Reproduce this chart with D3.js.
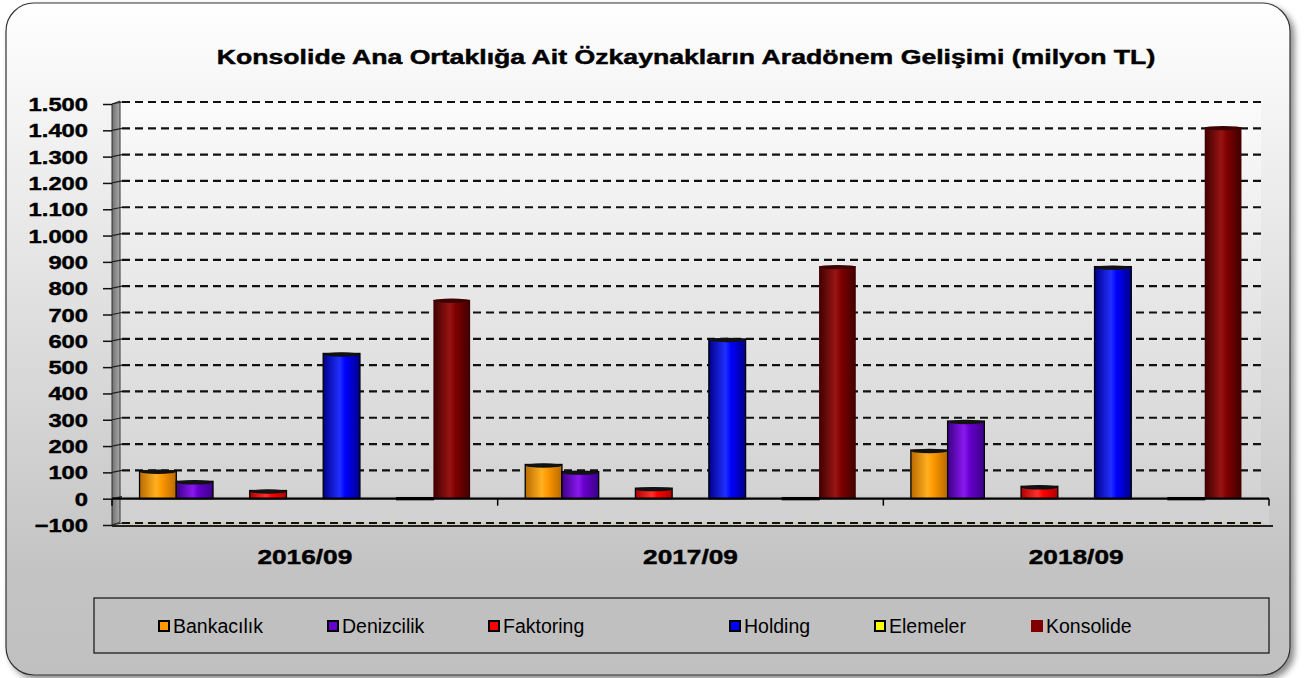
<!DOCTYPE html>
<html><head><meta charset="utf-8">
<script src="https://cdn.jsdelivr.net/npm/d3@7"></script>
<style>
html,body{margin:0;padding:0;background:#fff;}
svg{display:block;font-family:Arial,"Liberation Sans",sans-serif;}
</style></head>
<body>
<svg id="c" width="1310" height="678"></svg>
<script>
// ---------- data ----------
const categories = ["2016/09", "2017/09", "2018/09"];
const seriesNames = ["Bankacılık", "Denizcilik", "Faktoring", "Holding", "Elemeler", "Konsolide"];
// chart slots (hidden/empty series in the original occupy the gaps)
const slotKeys = ["Bankacılık", "Denizcilik", "(boş1)", "Faktoring", "(boş2)", "Holding", "(boş3)", "Elemeler", "Konsolide"];
const bankacilik = [106, 130, 185];
const denizcilik = [66, 103, 295];
const faktoring  = [31, 40, 47];
const holding    = [552, 607, 882];
const elemeler   = [-3, -3, -3];
const konsolide  = [756, 884, 1412];
const yTicks = [-100, 0, 100, 200, 300, 400, 500, 600, 700, 800, 900, 1000, 1100, 1200, 1300, 1400, 1500];
const titleText = "Konsolide Ana Ortaklığa Ait Özkaynakların Aradönem Gelişimi (milyon TL)";

const seriesValues = [bankacilik, denizcilik, faktoring, holding, elemeler, konsolide];
const palette = {
  "Bankacılık": {base:"#ff9900", dark:"#b86a00", light:"#ffb020", edge:true},
  "Denizcilik": {base:"#6600cc", dark:"#3c0088", light:"#8a18ee", edge:true},
  "Faktoring":  {base:"#ff0000", dark:"#b00000", light:"#ff3030", edge:true},
  "Holding":    {base:"#0000ff", dark:"#00008a", light:"#2030ff", edge:true},
  "Elemeler":   {base:"#ffff00", dark:"#202000", light:"#303000", edge:true},
  "Konsolide":  {base:"#800000", dark:"#3e0000", light:"#9a1414", edge:false}
};

const svg = d3.select("#c");
const defs = svg.append("defs");

// ---------- gradients / filters ----------
const bg = defs.append("linearGradient").attr("id","bg").attr("x1",0).attr("y1",0).attr("x2",0).attr("y2",1);
bg.append("stop").attr("offset","0").attr("stop-color","#ffffff");
bg.append("stop").attr("offset","0.45").attr("stop-color","#e0e0e0");
bg.append("stop").attr("offset","0.85").attr("stop-color","#c3c3c3");
bg.append("stop").attr("offset","1").attr("stop-color","#c0c0c0");

const wall = defs.append("linearGradient").attr("id","wall").attr("x1",0).attr("y1",0).attr("x2",0).attr("y2",1);
wall.append("stop").attr("offset","0").attr("stop-color","#fbfbfb");
wall.append("stop").attr("offset","1").attr("stop-color","#d3d3d3");

const lwall = defs.append("linearGradient").attr("id","lwall").attr("x1",0).attr("y1",0).attr("x2",1).attr("y2",0);
lwall.append("stop").attr("offset","0").attr("stop-color","#707070");
lwall.append("stop").attr("offset","1").attr("stop-color","#ababab");

const sh = defs.append("filter").attr("id","shadow").attr("x","-5%").attr("y","-5%").attr("width","112%").attr("height","112%");
sh.append("feDropShadow").attr("dx",4).attr("dy",4).attr("stdDeviation",3).attr("flood-color","#000").attr("flood-opacity",0.45);

seriesNames.forEach((n,i)=>{
  const p = palette[n];
  const g = defs.append("linearGradient").attr("id","g"+i).attr("x1",0).attr("y1",0).attr("x2",1).attr("y2",0);
  g.append("stop").attr("offset","0").attr("stop-color",p.dark);
  g.append("stop").attr("offset","0.45").attr("stop-color",p.light);
  g.append("stop").attr("offset","0.6").attr("stop-color",p.base);
  g.append("stop").attr("offset","1").attr("stop-color",p.dark);
});

// stretched text helper (reference text is horizontally wide and heavy)
function wideText(sel, x, yv, size, sx, anchor, weight, txt){
  return sel.append("text")
    .attr("transform",`translate(${x},${yv}) scale(${sx},1)`)
    .attr("text-anchor",anchor).attr("font-size",size).attr("font-weight",weight)
    .attr("fill","#000").attr("stroke","#000").attr("stroke-width",0.45).text(txt);
}

// ---------- frame ----------
svg.append("rect").attr("x",6).attr("y",3).attr("width",1284).attr("height",672)
  .attr("rx",28).attr("ry",28).attr("fill","url(#bg)").attr("stroke","#333").attr("stroke-width",1.2)
  .attr("filter","url(#shadow)");

// ---------- title ----------
wideText(svg, 686, 64, 20.5, 1.3, "middle", "bold", titleText);

// ---------- scales ----------
const x0 = 112, x1 = 1269, depth = 8, lift = 3;
const y = d3.scaleLinear().domain([-100,1500]).range([525,104]);
const xg = d3.scaleBand().domain(categories).range([x0,x1]).paddingInner(0).paddingOuter(0);
const xs = d3.scaleBand().domain(slotKeys).range([0,xg.bandwidth()]).paddingInner(0).paddingOuter(0.75);

// ---------- back wall ----------
svg.append("rect").attr("x",x0+depth).attr("y",y(1500)-lift).attr("width",x1-depth-(x0+depth)).attr("height",y(0)-y(1500))
  .attr("fill","url(#wall)");

// floor region (below zero)
svg.append("rect").attr("x",x0).attr("y",y(0)).attr("width",x1-x0).attr("height",y(-100)-y(0)+2)
  .attr("fill","#d2d2d2");
svg.append("polygon").attr("points",[[x0,y(-100)],[x0+depth,y(-100)-lift],[x1-depth,y(-100)-lift],[x1,y(-100)]].join(" "))
  .attr("fill","#cfcdb8");
svg.append("line").attr("x1",x0).attr("x2",x1+4).attr("y1",y(-100)+1).attr("y2",y(-100)+1)
  .attr("stroke","#222").attr("stroke-width",2);

// left wall
svg.append("polygon").attr("points",[[x0,y(1500)],[x0+depth,y(1500)-lift],[x0+depth,y(-100)-lift],[x0,y(-100)]].join(" "))
  .attr("fill","url(#lwall)").attr("stroke","#333").attr("stroke-width",1);

// gridlines
svg.append("g").selectAll("line").data(yTicks.filter(t=>t!==0)).join("line")
  .attr("x1",x0+depth+2).attr("x2",x1-depth)
  .attr("y1",d=>y(d)-lift+1).attr("y2",d=>y(d)-lift+1)
  .attr("stroke","#111").attr("stroke-width",2.2).attr("stroke-dasharray","8,5");
// little diagonal connectors
svg.append("g").selectAll("line").data(yTicks).join("line")
  .attr("x1",x0).attr("x2",x0+depth+2).attr("y1",d=>y(d)).attr("y2",d=>y(d)-lift+1)
  .attr("stroke","#222").attr("stroke-width",1.2);

// y axis ticks (d3 axis) & stretched labels
const fmt = d=>d3.format(",")(d).replace(/,/g,".");
const yAxis = d3.axisLeft(y).tickValues(yTicks).tickSize(9).tickFormat("");
const ya = svg.append("g").attr("transform",`translate(${x0},0)`).call(yAxis);
ya.select(".domain").remove();
ya.selectAll(".tick line").attr("stroke","#111").attr("stroke-width",1.5);
const yl = svg.append("g");
yTicks.forEach(t=>wideText(yl, 88, y(t)+7, 19, 1.25, "end", "bold", fmt(t)));

// ---------- bars ----------
const barData = [];
categories.forEach((c,ci)=>{
  seriesNames.forEach((n,si)=>{
    barData.push({cat:c, name:n, si:si, v:seriesValues[si][ci]});
  });
});
const bw = xs.bandwidth();
const bars = svg.append("g").selectAll("g").data(barData).join("g")
  .attr("transform",d=>`translate(${xg(d.cat)+xs(d.name)},0)`);
bars.append("rect")
  .attr("x",0).attr("width",bw)
  .attr("y",d=>Math.min(y(d.v),y(0)) - (d.v<0?1:0))
  .attr("height",d=>Math.max(Math.abs(y(d.v)-y(0)),2))
  .attr("fill",d=>d.v<0?"#1a1a00":`url(#g${d.si})`)
  .attr("stroke",d=>palette[d.name].edge?"#000":"none").attr("stroke-width",1.3);
bars.filter(d=>d.v>0).append("ellipse")
  .attr("cx",bw/2).attr("cy",d=>y(d.v)+1).attr("rx",bw/2).attr("ry",2.2)
  .attr("fill",d=>palette[d.name].edge?"#111":palette[d.name].dark);

// zero line / category axis
svg.append("line").attr("x1",x0).attr("x2",x1).attr("y1",y(0)).attr("y2",y(0))
  .attr("stroke","#000").attr("stroke-width",2.2);
svg.append("g").selectAll("line").data(d3.range(categories.length+1)).join("line")
  .attr("x1",i=>x0+i*xg.step()).attr("x2",i=>x0+i*xg.step())
  .attr("y1",y(0)).attr("y2",y(0)+7).attr("stroke","#000").attr("stroke-width",1.5);

// category labels
const cl = svg.append("g");
categories.forEach(c=>wideText(cl, xg(c)+xg.bandwidth()/2, 564, 20.5, 1.28, "middle", "bold", c));

// ---------- legend ----------
svg.append("rect").attr("x",94).attr("y",598).attr("width",1175).attr("height",55)
  .attr("fill","#c0c0c0").attr("stroke","#111").attr("stroke-width",1.2);
const legX = [158, 327, 488, 729, 874, 1031];
const lg = svg.append("g").selectAll("g").data(seriesNames).join("g")
  .attr("transform",(d,i)=>`translate(${legX[i]},626)`);
lg.append("rect").attr("x",d=>palette[d].edge?1:0).attr("y",d=>palette[d].edge?-5:-6)
  .attr("width",d=>palette[d].edge?10:12).attr("height",d=>palette[d].edge?10:12)
  .attr("fill",d=>palette[d].base)
  .attr("stroke",d=>palette[d].edge?"#000":"none").attr("stroke-width",2);
lg.append("text").attr("x",15).attr("y",7).attr("font-size",19.5).attr("fill","#000").text(d=>d);
</script>
</body></html>
